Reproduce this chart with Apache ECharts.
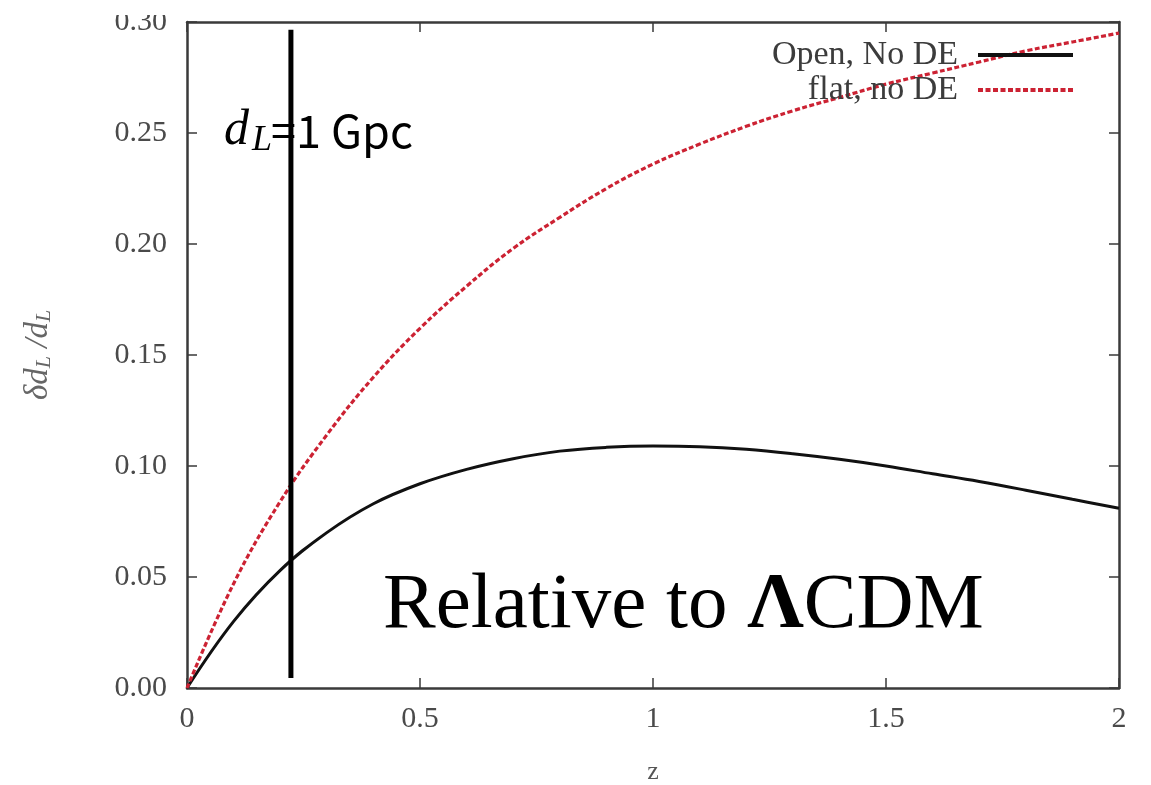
<!DOCTYPE html>
<html>
<head>
<meta charset="utf-8">
<script src="https://cdn.jsdelivr.net/npm/echarts@6/dist/echarts.min.js"></script>
<style>html,body{margin:0;padding:0;background:#fff}#c{width:1151px;height:785px}</style>
</head>
<body>
<div id="c"></div>
<script>
// ---- data ----
const zValues   = [0, 0.1, 0.2, 0.3, 0.4, 0.5, 0.6, 0.7, 0.8, 0.9, 1.0, 1.1, 1.2, 1.3, 1.4, 1.5, 1.6, 1.7, 1.8, 1.9, 2.0];
const openNoDE  = [0, 0.030, 0.053, 0.070, 0.083, 0.092, 0.0985, 0.1033, 0.1067, 0.1084, 0.109, 0.1087, 0.1075, 0.1055, 0.103, 0.100, 0.0965, 0.093, 0.0891, 0.085, 0.081];
const flatNoDE  = [0, 0.047, 0.084, 0.114, 0.140, 0.162, 0.181, 0.198, 0.212, 0.225, 0.236, 0.245, 0.253, 0.260, 0.266, 0.272, 0.277, 0.282, 0.287, 0.291, 0.295];
const seriesNames = ['Open, No DE', 'flat, no DE'];
const gpcZ = 0.223;            // z where d_L = 1 Gpc
const gpcYRange = [0.0045, 0.2965];
const xTicks = { min: 0, max: 2, interval: 0.5 };
const yTicks = { min: 0, max: 0.30, interval: 0.05 };

const chart = echarts.init(document.getElementById('c'), null, { renderer: 'canvas' });
const frame = '#3a3a3a';
const serif = "'Liberation Serif', 'DejaVu Serif', serif";
const labelColor = '#4a4a4a';

function axisBase(extra) {
  return Object.assign({
    type: 'value',
    splitLine: { show: false },
    axisLine: { show: true, onZero: false, lineStyle: { color: frame, width: 2.5 } },
    axisTick: { show: true, inside: true, length: 10, lineStyle: { color: frame, width: 1.5 } }
  }, extra);
}

function legendAt(name, top) {
  return {
    data: [name], right: 71, top: top, align: 'right',
    itemWidth: 95, itemHeight: 14, selectedMode: false,
    itemStyle: { opacity: 0 },
    lineStyle: { width: 4 },
    textStyle: { fontFamily: serif, fontSize: 34, color: '#3c3c3c', padding: [0, 15, 0, 0] }
  };
}

const option = {
  backgroundColor: '#fff',
  animation: false,
  grid: { left: 187, right: 32, top: 22, bottom: 97, containLabel: false, outerBoundsMode: 'none' },
  legend: [ legendAt(seriesNames[0], 33), legendAt(seriesNames[1], 68) ],
  xAxis: [
    axisBase({
      position: 'bottom', min: xTicks.min, max: xTicks.max, interval: xTicks.interval,
      name: 'z', nameLocation: 'middle', nameGap: 71,
      nameTextStyle: { fontFamily: serif, fontSize: 26, color: '#555' },
      axisLabel: { fontFamily: serif, fontSize: 30, color: labelColor, margin: 16,
        formatter: v => String(+v.toFixed(2)) }
    }),
    axisBase({
      position: 'top', min: xTicks.min, max: xTicks.max, interval: xTicks.interval,
      axisLabel: { show: false }
    })
  ],
  yAxis: [
    axisBase({
      position: 'left', min: yTicks.min, max: yTicks.max, interval: yTicks.interval,
      name: '{a|δd}{b|L}{a| /d}{b|L}', nameLocation: 'middle', nameGap: 132, nameRotate: 90,
      nameTextStyle: {
        rich: {
          a: { fontFamily: serif, fontStyle: 'italic', fontSize: 33, color: '#666', lineHeight: 40, verticalAlign: 'bottom' },
          b: { fontFamily: serif, fontStyle: 'italic', fontSize: 22, color: '#666', lineHeight: 30, verticalAlign: 'bottom' }
        }
      },
      axisLabel: { fontFamily: serif, fontSize: 30, color: labelColor, margin: 20,
        formatter: v => v.toFixed(2) }
    }),
    axisBase({
      position: 'right', min: yTicks.min, max: yTicks.max, interval: yTicks.interval,
      axisLabel: { show: false }
    })
  ],
  series: [
    {
      name: seriesNames[0], type: 'line', xAxisIndex: 0, yAxisIndex: 0,
      data: zValues.map((z, i) => [z, openNoDE[i]]),
      smooth: 0.4, showSymbol: false, symbol: 'none',
      lineStyle: { color: '#111', width: 3 }, itemStyle: { color: '#111' }, z: 3
    },
    {
      name: seriesNames[1], type: 'line', xAxisIndex: 0, yAxisIndex: 0,
      data: zValues.map((z, i) => [z, flatNoDE[i]]),
      smooth: 0.4, showSymbol: false, symbol: 'none',
      lineStyle: { color: '#cc2233', width: 3.2, type: [5, 2.5] }, itemStyle: { color: '#cc2233' }, z: 3
    },
    {
      name: 'dL1Gpc', type: 'line', xAxisIndex: 0, yAxisIndex: 0,
      data: [[gpcZ, gpcYRange[0]], [gpcZ, gpcYRange[1]]],
      showSymbol: false, symbol: 'none',
      lineStyle: { color: '#000', width: 5 }, z: 4
    }
  ],
  graphic: [
    { type: 'rect', shape: { x: 0, y: 0, width: 180, height: 15 }, style: { fill: '#fff' }, z: 100 },
    { type: 'text', x: 224, y: 131, z: 50,
      style: { text: 'd', fontFamily: serif, fontStyle: 'italic', fontSize: 50, fill: '#000', verticalAlign: 'middle' } },
    { type: 'text', x: 252, y: 141, z: 50,
      style: { text: 'L', fontFamily: serif, fontStyle: 'italic', fontSize: 36, fill: '#000', verticalAlign: 'middle' } },
    { type: 'text', x: 271, y: 131, z: 50,
      style: { text: '=1 Gpc', fontFamily: "'Noto Sans CJK KR', 'Noto Sans', sans-serif", fontSize: 45, fill: '#000', verticalAlign: 'middle' } },
    { type: 'text', x: 383, y: 606, z: 50,
      style: {
        text: '{n|Relative to }{b|Λ}{n|CDM}', verticalAlign: 'middle',
        rich: {
          n: { fontFamily: serif, fontSize: 79, color: '#000' },
          b: { fontFamily: serif, fontSize: 79, fontWeight: 'bold', color: '#000' }
        }
      } }
  ]
};
chart.setOption(option);
</script>
</body>
</html>
